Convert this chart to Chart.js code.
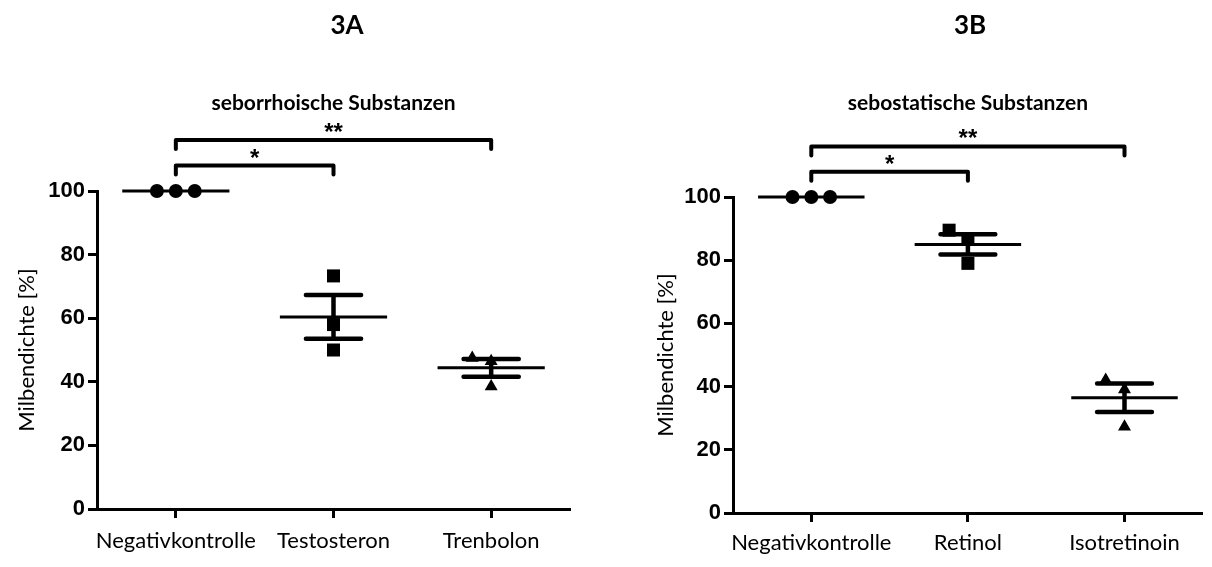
<!DOCTYPE html>
<html><head><meta charset="utf-8">
<script src="https://cdn.jsdelivr.net/npm/chart.js@4.4.1/dist/chart.umd.min.js"></script>
<style>
html,body{margin:0;padding:0;background:#fff;}
#wrap{position:relative;width:1212px;height:567px;overflow:hidden;background:#fff;}
canvas{position:absolute;top:0;}
.panel{position:absolute;top:9px;width:100px;text-align:center;font:bold 26px Lato;line-height:30px;color:#000;}
</style></head>
<body><div id="wrap">
<canvas id="cA" width="606" height="567" style="left:0"></canvas>
<canvas id="cB" width="606" height="567" style="left:606px"></canvas>
<div class="panel" style="left:297px">3A</div>
<div class="panel" style="left:920px">3B</div>
</div>
<script>
// ---- Panel 3A: seborrhoische Substanzen ----
const titleA = 'seborrhoische Substanzen';
const categoriesA = ['Negativkontrolle', 'Testosteron', 'Trenbolon'];
const negativkontrolleA = [100, 100, 100];
const testosteron = [73.3, 58, 50];
const trenbolon = [47.5, 46.5, 38.5];
const meansA = [100, 60.4, 44.4];
const semA = [0, 6.9, 2.8];
const bracketsA = [[0, 2, '**'], [0, 1, '*']];

// ---- Panel 3B: sebostatische Substanzen ----
const titleB = 'sebostatische Substanzen';
const categoriesB = ['Negativkontrolle', 'Retinol', 'Isotretinoin'];
const negativkontrolleB = [100, 100, 100];
const retinol = [89.5, 86.8, 79];
const isotretinoin = [42.1, 39.1, 27.3];
const meansB = [100, 85.0, 36.5];
const semB = [0, 3.2, 4.5];
const bracketsB = [[0, 2, '**'], [0, 1, '*']];

const yTicks = [0, 20, 40, 60, 80, 100];
const yTitle = 'Milbendichte [%]';

// spread overlapping points sideways (like a scatter dot plot)
function dodge(vals) {
  const order = vals.map((v, i) => i).sort((a, b) => vals[a] - vals[b]);
  const placed = [];
  const offs = new Array(vals.length).fill(0);
  order.forEach(i => {
    for (const k of [0, -1, 1, -2, 2]) {
      if (!placed.some(p => p.k === k && Math.abs(p.v - vals[i]) < 4)) {
        placed.push({k, v: vals[i]}); offs[i] = k * 0.12; break;
      }
    }
  });
  return offs;
}

function makeChart(id, title, cats, groups, means, sems, brackets, geom) {
  const styles = ['circle', 'rect', 'triangle'];
  const radii = [7, 9.2, 7.5];
  const datasets = groups.map((vals, i) => {
    const offs = dodge(vals);
    return {
      data: vals.map((v, j) => ({x: i + offs[j], y: v})),
      pointStyle: styles[i], pointRadius: radii[i], pointHoverRadius: radii[i],
      backgroundColor: '#000', borderColor: '#000', borderWidth: 0,
      showLine: false, clip: false
    };
  });
  const deco = {
    id: 'deco',
    beforeDatasetsDraw(chart) {
      const ctx = chart.ctx, xs = chart.scales.x, ys = chart.scales.y;
      const unit = xs.getPixelForValue(1) - xs.getPixelForValue(0);
      ctx.save();
      ctx.strokeStyle = '#000';
      means.forEach((m, i) => {
        const cx = xs.getPixelForValue(i), my = ys.getPixelForValue(m);
        ctx.lineWidth = 3; ctx.lineCap = 'butt';
        ctx.beginPath(); ctx.moveTo(cx - 0.34 * unit, my); ctx.lineTo(cx + 0.34 * unit, my); ctx.stroke();
        if (sems[i] > 0) {
          const t = ys.getPixelForValue(m + sems[i]), b = ys.getPixelForValue(m - sems[i]);
          ctx.lineWidth = 4.5; ctx.lineCap = 'round';
          ctx.beginPath();
          ctx.moveTo(cx - 0.175 * unit, t); ctx.lineTo(cx + 0.175 * unit, t);
          ctx.moveTo(cx - 0.175 * unit, b); ctx.lineTo(cx + 0.175 * unit, b);
          ctx.moveTo(cx, t); ctx.lineTo(cx, b);
          ctx.stroke();
        }
      });
      ctx.restore();
    },
    afterDraw(chart) {
      const ctx = chart.ctx, xs = chart.scales.x, ys = chart.scales.y;
      const levels = [116, 108];
      ctx.save();
      ctx.strokeStyle = '#000'; ctx.fillStyle = '#000';
      ctx.lineWidth = 4; ctx.lineCap = 'round'; ctx.lineJoin = 'round';
      brackets.forEach(([a, b, label], k) => {
        const yb = ys.getPixelForValue(levels[k]);
        const xa = xs.getPixelForValue(a), xb = xs.getPixelForValue(b);
        ctx.beginPath();
        ctx.moveTo(xa, yb + 9); ctx.lineTo(xa, yb); ctx.lineTo(xb, yb); ctx.lineTo(xb, yb + 9);
        ctx.stroke();
        ctx.font = 'bold 24px "Liberation Sans"'; ctx.textAlign = 'center'; ctx.textBaseline = 'alphabetic';
        ctx.fillText(label, (xa + xb) / 2, yb);
      });
      ctx.font = 'bold 21px Lato'; ctx.textAlign = 'center'; ctx.textBaseline = 'middle';
      ctx.fillText(title, xs.getPixelForValue(1), 103);
      ctx.restore();
    }
  };
  return new Chart(document.getElementById(id), {
    type: 'scatter',
    data: {datasets},
    options: {
      responsive: false, animation: false, events: [],
      layout: {padding: {top: geom.top, right: geom.right, left: 0, bottom: 0}},
      plugins: {legend: {display: false}, tooltip: {enabled: false}},
      scales: {
        x: {
          type: 'linear', min: -0.5, max: 2.5,
          afterBuildTicks: s => { s.ticks = cats.map((c, i) => ({value: i})); },
          afterFit: s => { s.height = geom.xh; },
          grid: {drawOnChartArea: false, drawTicks: true, tickLength: 9, tickWidth: 3, tickColor: '#000'},
          border: {display: true, color: '#000', width: 3},
          ticks: {callback: v => cats[v], font: {family: 'Lato', size: 22}, color: '#000', padding: geom.xp, maxRotation: 0, autoSkip: false}
        },
        y: {
          type: 'linear', min: 0, max: 100,
          afterBuildTicks: s => { s.ticks = yTicks.map(v => ({value: v})); },
          afterFit: s => { s.width = geom.yw; },
          grid: {drawOnChartArea: false, drawTicks: true, tickLength: 9, tickWidth: 3, tickColor: '#000'},
          border: {display: true, color: '#000', width: 3},
          ticks: {font: {family: 'Liberation Sans', size: 22, weight: 'bold'}, color: '#000', padding: 3},
          title: {display: true, text: yTitle, font: {family: 'Lato', size: 22}, color: '#000', padding: {top: geom.tp, bottom: 0}}
        }
      }
    },
    plugins: [deco]
  });
}

makeChart('cA', titleA, categoriesA, [negativkontrolleA, testosteron, trenbolon], meansA, semA, bracketsA,
  {top: 191, right: 36, xh: 58, yw: 97, tp: 14, xp: 10});
makeChart('cB', titleB, categoriesB, [negativkontrolleB, retinol, isotretinoin], meansB, semB, bracketsB,
  {top: 197, right: 7, xh: 54, yw: 127, tp: 47, xp: 8});
</script>
</body></html>
